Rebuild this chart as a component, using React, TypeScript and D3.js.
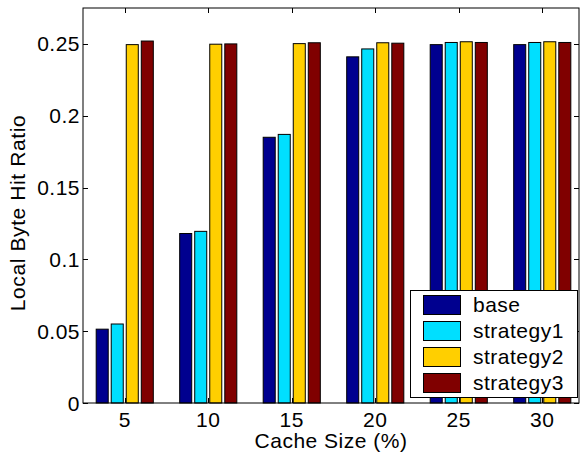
import React, { useEffect, useRef } from "react";
import * as d3 from "d3";

const cacheSizes = [5, 10, 15, 20, 25, 30];
const seriesNames = ["base", "strategy1", "strategy2", "strategy3"];
const seriesColors = ["#00008f", "#00dfff", "#ffcf00", "#800000"];

const baseValues = [0.0514, 0.118, 0.185, 0.241, 0.2495, 0.2495];
const strategy1Values = [0.055, 0.1195, 0.187, 0.2465, 0.251, 0.251];
const strategy2Values = [0.2495, 0.2498, 0.2502, 0.2508, 0.2515, 0.2515];
const strategy3Values = [0.252, 0.25, 0.2508, 0.2505, 0.251, 0.251];

const yTicks = [0, 0.05, 0.1, 0.15, 0.2, 0.25];
const yTickLabels = ["0", "0.05", "0.1", "0.15", "0.2", "0.25"];

const App: React.FC = () => {
  const svgRef = useRef<SVGSVGElement>(null);

  useEffect(() => {
    if (!svgRef.current) return;
    const width = 581;
    const height = 456;
    const left = 83;
    const right = 579;
    const top = 8;
    const bottom = 403;
    const font = "'Liberation Sans', Arial, Helvetica, sans-serif";
    const fs = 21;
    const ls = 0.5;

    const svg = d3.select(svgRef.current).attr("width", width).attr("height", height);
    svg.selectAll("*").remove();

    const x = d3.scaleLinear().domain([2.5, 32.2]).range([left, right]);
    const y = d3.scaleLinear().domain([0, 0.275]).range([bottom, top]);

    const allSeries = [baseValues, strategy1Values, strategy2Values, strategy3Values];
    const pitch = 0.9; // units between bars in a group
    const barW = 0.72;

    svg.append("rect").attr("width", width).attr("height", height).attr("fill", "#fff");

    // bars
    allSeries.forEach((vals, si) => {
      svg
        .append("g")
        .selectAll("rect")
        .data(vals)
        .enter()
        .append("rect")
        .attr("x", (d, i) => x(cacheSizes[i] + (si - 1.5) * pitch - barW / 2))
        .attr("width", x(barW) - x(0))
        .attr("y", (d) => y(d))
        .attr("height", (d) => y(0) - y(d))
        .attr("fill", seriesColors[si])
        .attr("stroke", "#000")
        .attr("stroke-width", 1);
    });

    // axes box
    svg
      .append("rect")
      .attr("x", left)
      .attr("y", top)
      .attr("width", right - left)
      .attr("height", bottom - top)
      .attr("fill", "none")
      .attr("stroke", "#000")
      .attr("stroke-width", 1);

    const tl = 5;
    // x ticks
    cacheSizes.forEach((c) => {
      const px = Math.round(x(c)) + 0.5;
      svg.append("line").attr("x1", px).attr("x2", px).attr("y1", bottom).attr("y2", bottom - tl).attr("stroke", "#000");
      svg.append("line").attr("x1", px).attr("x2", px).attr("y1", top).attr("y2", top + tl).attr("stroke", "#000");
      svg
        .append("text")
        .attr("x", x(c))
        .attr("y", 426.5)
        .attr("text-anchor", "middle")
        .attr("font-family", font)
        .attr("font-size", fs)
        .attr("letter-spacing", ls)
        .text(String(c));
    });

    // y ticks
    yTicks.forEach((t, i) => {
      const py = Math.round(y(t)) + 0.5;
      svg.append("line").attr("x1", left).attr("x2", left + tl).attr("y1", py).attr("y2", py).attr("stroke", "#000");
      svg.append("line").attr("x1", right).attr("x2", right - tl).attr("y1", py).attr("y2", py).attr("stroke", "#000");
      svg
        .append("text")
        .attr("x", 80)
        .attr("y", y(t))
        .attr("dy", "0.36em")
        .attr("text-anchor", "end")
        .attr("font-family", font)
        .attr("font-size", fs)
        .attr("letter-spacing", ls)
        .text(yTickLabels[i]);
    });

    // axis titles
    svg
      .append("text")
      .attr("x", (left + right) / 2)
      .attr("y", 448)
      .attr("text-anchor", "middle")
      .attr("font-family", font)
      .attr("font-size", fs)
      .attr("letter-spacing", ls)
      .text("Cache Size (%)");

    svg
      .append("text")
      .attr("transform", `translate(25,213) rotate(-90)`)
      .attr("text-anchor", "middle")
      .attr("font-family", font)
      .attr("font-size", fs)
      .attr("letter-spacing", 0.6)
      .text("Local Byte Hit Ratio");

    // legend
    const lg = svg.append("g");
    lg.append("rect")
      .attr("x", 410.5)
      .attr("y", 290.5)
      .attr("width", 167)
      .attr("height", 107)
      .attr("fill", "#fff")
      .attr("stroke", "#000")
      .attr("stroke-width", 1);
    seriesNames.forEach((name, i) => {
      const ry = 295 + i * 26;
      lg.append("rect")
        .attr("x", 423.5)
        .attr("y", ry + 0.5)
        .attr("width", 37)
        .attr("height", 19)
        .attr("fill", seriesColors[i])
        .attr("stroke", "#000");
      lg.append("text")
        .attr("x", 473)
        .attr("y", ry + 17)
        .attr("font-family", font)
        .attr("font-size", fs)
        .attr("letter-spacing", ls)
        .text(name);
    });
  }, []);

  return <svg ref={svgRef} style={{ position: "absolute", left: 0, top: 0 }}></svg>;
};

export default App;
